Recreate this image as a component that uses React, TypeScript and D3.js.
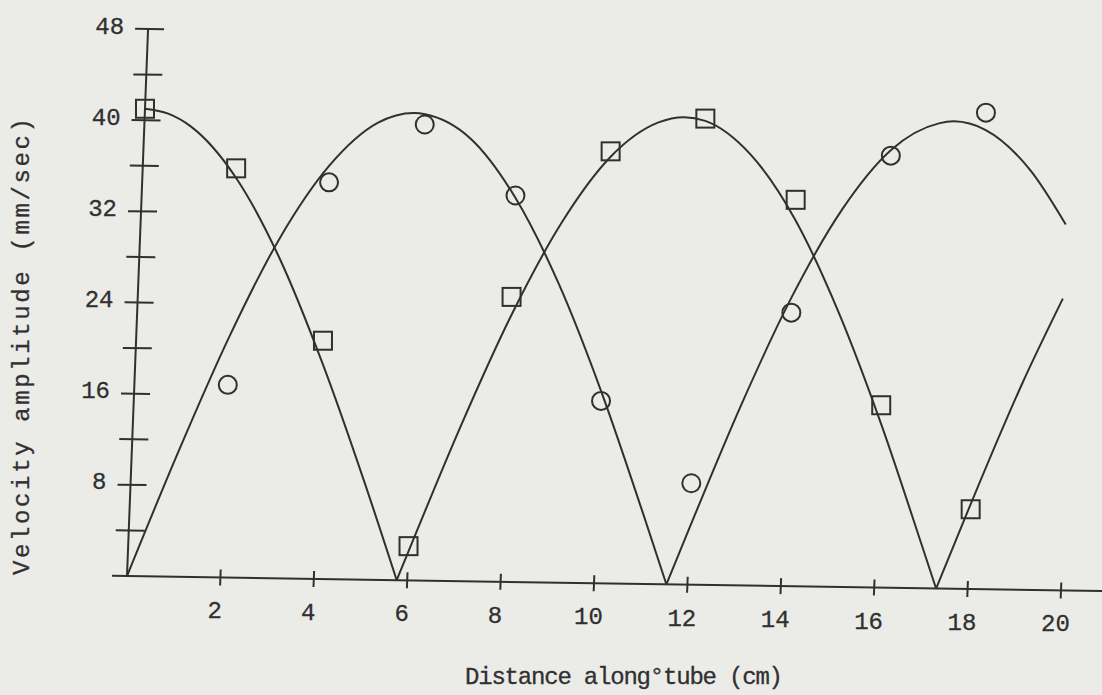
import React from 'react';
import * as d3 from 'd3';

const W = 1102;
const H = 695;

// Axis ticks
const xTicks = [2, 4, 6, 8, 10, 12, 14, 16, 18, 20];
const yMajorTicks = [8, 16, 24, 32, 40, 48];
const yMinorTicks = [4, 12, 20, 28, 36, 44];

// Measured velocity amplitudes (mm/sec) against distance (cm)
const squareX = [0, 2, 4, 6, 8, 10, 12, 14, 16, 18];
const squareY = [41.0, 35.9, 20.9, 3.0, 25.0, 37.9, 40.9, 33.9, 16.0, 7.0];
const circleX = [2, 4, 6, 8, 10, 12, 14, 16, 18];
const circleY = [16.9, 34.8, 40.0, 33.9, 16.0, 8.9, 24.0, 37.9, 41.8];

// Theoretical standing-wave curves, one arch between nodes at a time
const curveA1: [number, number][] = [
  [0, 41.0], [0.5, 40.6], [1, 39.5], [2, 35.1], [3, 28.1], [4, 19.0], [5, 8.6], [5.775, 0],
];
const curveA2: [number, number][] = [
  [5.775, 0], [6, 2.5], [7, 13.4], [8, 23.3], [9, 31.5], [10, 37.4], [11, 40.5],
  [11.55, 41.0], [12, 40.7], [13, 37.8], [14, 32.2], [15, 24.2], [16, 14.5], [17, 3.6], [17.325, 0],
];
const curveA3: [number, number][] = [
  [17.325, 0], [18, 7.5], [19, 18.1], [19.8, 25.6],
];
const curveB1: [number, number][] = [
  [0, 0], [1, 11.0], [2, 21.2], [3, 29.9], [4, 36.3], [5, 40.1], [5.775, 41.0],
  [6, 40.9], [7, 38.8], [8, 33.7], [9, 26.2], [10, 16.8], [11, 6.1], [11.55, 0],
];
const curveB2: [number, number][] = [
  [11.55, 0], [12, 5.0], [13, 15.8], [14, 25.4], [15, 33.1], [16, 38.4], [17, 40.8],
  [17.325, 41.0], [18, 40.3], [19, 36.8], [19.8, 32.1],
];
const arches = [curveA1, curveA2, curveA3, curveB1, curveB2];

const INK = '#303030';
const PAPER = '#ebebe8';
const FONT = '"Liberation Mono", "DejaVu Sans Mono", monospace';

// The plot frame is slightly sheared on the page
const M = { a: 1, b: 0.0155, c: -0.0385, d: 1, e: 127, f: 576 };
const project = (lx: number, ly: number): [number, number] => [
  M.e + M.a * lx + M.c * ly,
  M.f + M.b * lx + M.d * ly,
];

export default function App() {
  const x = d3.scaleLinear().domain([0, 20]).range([0, 934]);
  const y = d3.scaleLinear().domain([0, 48]).range([0, -547]);

  const line = d3
    .line<[number, number]>()
    .x((d) => x(d[0]))
    .y((d) => y(d[1]))
    .curve(d3.curveMonotoneX);

  const matrix = `matrix(${M.a},${M.b},${M.c},${M.d},${M.e},${M.f})`;

  return (
    <div style={{ position: 'absolute', left: 0, top: 0 }}>
      <svg width={W} height={H} style={{ display: 'block' }}>
        <rect x={0} y={0} width={W} height={H} fill={PAPER} />
        <g transform={matrix} stroke={INK} fill="none" strokeWidth={2}>
          {/* axes */}
          <line x1={-15} y1={0} x2={1000} y2={0} />
          <line x1={0} y1={0} x2={0} y2={y(48)} />
          {xTicks.map((t) => (
            <line key={`xt${t}`} x1={x(t)} x2={x(t)} y1={-8} y2={8} />
          ))}
          {[...yMajorTicks, ...yMinorTicks].map((t) => (
            <line key={`yt${t}`} x1={-13} x2={16} y1={y(t)} y2={y(t)} />
          ))}
          {/* curves */}
          {arches.map((arch, i) => (
            <path key={`c${i}`} d={line(arch) ?? ''} strokeWidth={2} strokeLinejoin="round" />
          ))}
        </g>

        {/* markers */}
        <g stroke={INK} fill="none" strokeWidth={2}>
          {squareX.map((sx, i) => {
            const [px, py] = project(x(sx), y(squareY[i]));
            return <rect key={`s${i}`} x={px - 9} y={py - 9} width={18} height={18} />;
          })}
          {circleX.map((cx, i) => {
            const [px, py] = project(x(cx), y(circleY[i]));
            return <circle key={`o${i}`} cx={px} cy={py} r={9} />;
          })}
        </g>

        {/* tick labels */}
        <g fill={INK} stroke={INK} strokeWidth={0.3} fontFamily={FONT} fontSize={24}>
          {yMajorTicks.map((t) => {
            const [px, py] = project(-24, y(t));
            return (
              <text key={`yl${t}`} x={px} y={py + 5} textAnchor="end">
                {t}
              </text>
            );
          })}
          {xTicks.map((t) => {
            const [px, py] = project(x(t) - 4, 41);
            return (
              <text key={`xl${t}`} x={px} y={py} textAnchor="middle">
                {t}
              </text>
            );
          })}
        </g>

        {/* axis titles */}
        <g fill={INK} stroke={INK} strokeWidth={0.3} fontFamily={FONT} fontSize={24}>
          <text x={465} y={684} textLength={318} lengthAdjust="spacing">
            Distance along°tube (cm)
          </text>
          <text
            transform="translate(29,346.5) rotate(-90)"
            textAnchor="middle"
            textLength={457}
            lengthAdjust="spacing"
          >
            Velocity amplitude (mm/sec)
          </text>
        </g>
      </svg>
    </div>
  );
}
